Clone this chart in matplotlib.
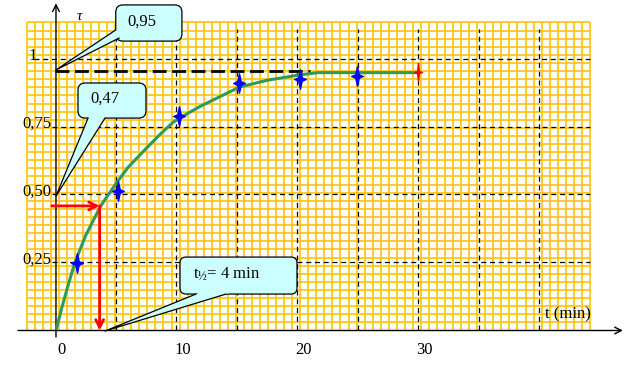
import numpy as np
import matplotlib
matplotlib.use("Agg")
import matplotlib.pyplot as plt
from matplotlib.patches import FancyBboxPatch, Polygon
from matplotlib.path import Path

plt.rcParams['font.family'] = ['Liberation Serif', 'DejaVu Serif']
plt.rcParams['mathtext.fontset'] = 'custom'
plt.rcParams['mathtext.rm'] = 'Liberation Serif'

# measured points (t in min, tau)
t_meas = [1.8, 5.2, 10.2, 15.2, 20.2, 24.9]
tau_meas = [0.248, 0.514, 0.788, 0.91, 0.924, 0.936]
t_last, tau_last = 29.96, 0.95

# fitted curve
t_curve = [0.1, 0.5, 1, 1.6, 2.5, 3.7, 4.3, 5, 6, 7.4, 8.5, 9.7, 11, 12,
           13.6, 15.2, 17.5, 20.2, 21.7, 30]
tau_curve = [0.01, 0.08, 0.16, 0.25, 0.35, 0.455, 0.495, 0.54, 0.60, 0.665,
             0.715, 0.765, 0.80, 0.825, 0.86, 0.895, 0.92, 0.94, 0.948, 0.948]

tau_inf = 0.953
t_half, tau_half = 3.65, 0.458

tau_ticks = [0.25, 0.5, 0.75, 1]
tau_labels = ['0,25', '0,50', '0,75', '1']
t_ticks = [0, 10, 20, 30]
t_dash = [5, 10, 15, 20, 25, 30, 35, 40]

cyan = '#CCFFFF'
aspect = 12.1 / 272

fig = plt.figure(figsize=(6.36, 3.81), dpi=100)
ax = fig.add_axes([0, 0, 1, 1])
ax.set_xlim(-4.587, 47.98)
ax.set_ylim(-0.1857, 1.2151)
ax.axis('off')

# millimetre-paper grid
gx = -2.38 + 0.665 * np.arange(71)
gy = 0.0298 * np.arange(1, 39)
ax.vlines(gx, 0, gy[-1], color='#FFC81E', lw=1.3, zorder=1)
ax.hlines(gy, gx[0], gx[-1], color='#FFC81E', lw=1.3, zorder=1)

# dashed reference lines
ax.vlines(t_dash, 0, 1.11, color='k', lw=0.9, ls=(0, (4, 3)), zorder=2)
for v in tau_ticks:
    x0 = -1.8 if v == 1 else -0.3
    ax.hlines(v, x0, 44.2, color='k', lw=0.9, ls=(0, (4, 3)), zorder=2)
ax.hlines(tau_inf, 0, 21, color='k', lw=2, ls=(0, (5, 2)), zorder=2)

# axes with arrows
ax.annotate('', xy=(0.04, 1.203), xytext=(0.04, -0.024),
            arrowprops=dict(arrowstyle='->', color='k', lw=1,
                            shrinkA=0, shrinkB=0, mutation_scale=12), zorder=3)
ax.annotate('', xy=(46.9, 0), xytext=(-3.1, 0),
            arrowprops=dict(arrowstyle='->', color='k', lw=1,
                            shrinkA=0, shrinkB=0, mutation_scale=12), zorder=3)

# curve and points
ax.plot(t_curve, tau_curve, color='#2E9A5A', lw=2.2, zorder=3)

star = Path([(0, 1), (0.18, 0.18), (0.6, 0), (0.18, -0.18), (0, -1),
             (-0.18, -0.18), (-0.6, 0), (-0.18, 0.18), (0, 1)],
            [Path.MOVETO] + [Path.LINETO] * 7 + [Path.CLOSEPOLY])
thin_star = Path([(0, 1), (0.1, 0.1), (0.45, 0), (0.1, -0.1), (0, -1),
                  (-0.1, -0.1), (-0.45, 0), (-0.1, 0.1), (0, 1)],
                 [Path.MOVETO] + [Path.LINETO] * 7 + [Path.CLOSEPOLY])
ax.plot(t_meas, tau_meas, ls='none', marker=star, ms=14, color='#0000FF',
        mec='#0000FF', zorder=4)
ax.plot([t_last], [tau_last], ls='none', marker=thin_star, ms=13,
        color='#FF0000', mec='#FF0000', zorder=4)

# half-life arrows
red_arrow = dict(arrowstyle='->', color='#FF0000', lw=2, shrinkA=0,
                 shrinkB=0, mutation_scale=14)
ax.annotate('', xy=(t_half, tau_half), xytext=(-0.3, tau_half),
            arrowprops=red_arrow, zorder=4)
ax.annotate('', xy=(t_half, 0), xytext=(t_half, tau_half),
            arrowprops=red_arrow, zorder=4)


def callout(box, base, tip, rs=0.6):
    x0, x1, y0, y1 = box
    ax.add_patch(FancyBboxPatch((x0, y0), x1 - x0, y1 - y0,
                                boxstyle='round,pad=0,rounding_size=%g' % rs,
                                mutation_aspect=aspect, fc=cyan, ec='k',
                                lw=0.9, zorder=5))
    b = np.array(base, dtype=float)
    tp = np.array(tip, dtype=float)
    b_in = b + (b - tp) * 0.06
    ax.add_patch(Polygon([b_in[0], b_in[1], tp], closed=True, fc=cyan,
                         ec='none', zorder=6))
    ax.plot([b[0][0], tp[0], b[1][0]], [b[0][1], tp[1], b[1][1]],
            color='k', lw=0.9, zorder=7)


callout((4.98, 10.45, 1.064, 1.197), [(4.98, 1.105), (5.25, 1.075)],
        (0.04, 0.958))
callout((1.86, 7.48, 0.781, 0.910), [(2.69, 0.781), (4.09, 0.781)],
        (0.04, 0.494))
callout((10.29, 19.96, 0.134, 0.270), [(11.61, 0.134), (14.09, 0.134)],
        (4.09, -0.002), rs=0.5)

# texts
fs = 12
ax.text(5.91, 1.119, '0,95', fontsize=fs, va='baseline', zorder=8)
ax.text(2.85, 0.836, '0,47', fontsize=fs, va='baseline', zorder=8)
ax.text(11.36, 0.189, r'$\mathrm{t_{½}}$= 4 min', fontsize=fs,
        va='baseline', zorder=8)
ax.text(1.78, 1.142, 'τ', fontsize=11, style='italic', va='baseline', zorder=8)
ax.text(40.45, 0.046, 't (min)', fontsize=fs, va='baseline', zorder=8)

for v, lab in zip(tau_ticks, tau_labels):
    x = -1.55 if lab == '1' else -0.3
    ax.text(x, v - 0.005, lab, fontsize=fs, ha='right', va='baseline', zorder=8)
for v in t_ticks:
    ax.text(v + 0.5, -0.085, str(v), fontsize=fs, ha='center', va='baseline',
            zorder=8)

fig.savefig('out.png', dpi=100)
